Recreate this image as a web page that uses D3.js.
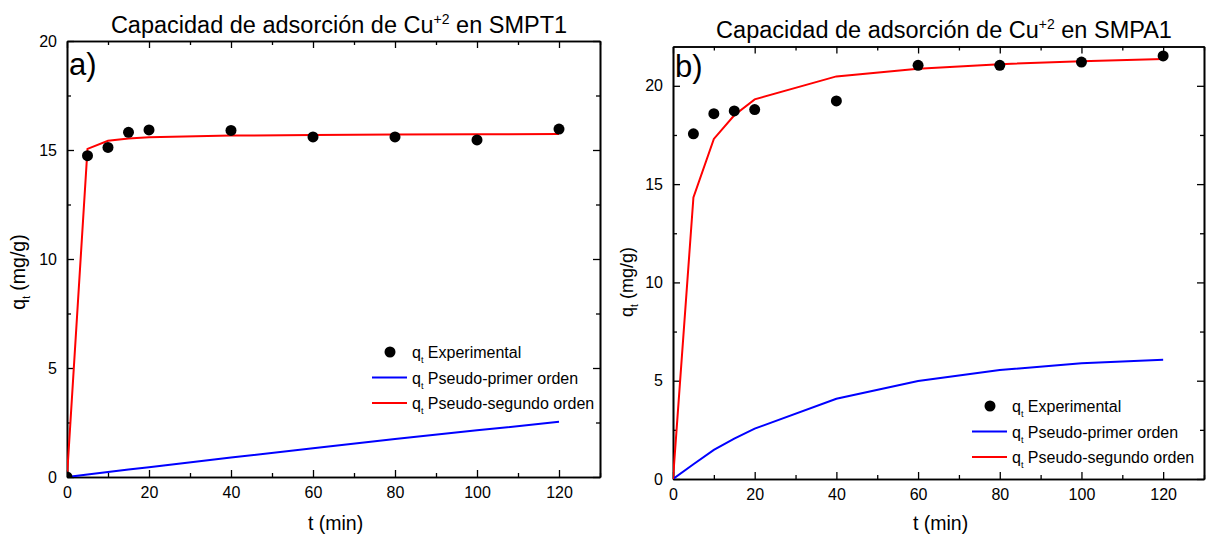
<!DOCTYPE html>
<html>
<head>
<meta charset="utf-8">
<script src="https://cdn.jsdelivr.net/npm/d3@7"></script>
<style>
  body { margin: 0; background: #fff; }
  svg { display: block; }
  text { font-family: "Liberation Sans", Arial, sans-serif; fill: #000; }
</style>
</head>
<body>
<svg id="chart" width="1206" height="536"></svg>
<script>
// Contact time (min)
const timeExpA = [0, 5, 10, 15, 20, 40, 60, 80, 100, 120];
const timeExpB = [5, 10, 15, 20, 40, 60, 80, 100, 120];
const timeModel = [0, 5, 10, 15, 20, 40, 60, 80, 100, 120];

// SMPT1: experimental uptake and kinetic model curves (mg/g)
const expA = [0, 14.74, 15.12, 15.81, 15.92, 15.9, 15.6, 15.6, 15.46, 15.96];
const pfoA = [0, 0.11, 0.23, 0.34, 0.45, 0.89, 1.32, 1.74, 2.14, 2.53];
const psoA = [0, 15.05, 15.42, 15.53, 15.58, 15.66, 15.69, 15.71, 15.72, 15.73];

// SMPA1
const expB = [17.56, 18.58, 18.72, 18.79, 19.23, 21.04, 21.04, 21.21, 21.52];
const pfoB = [0, 0.75, 1.48, 2.05, 2.56, 4.08, 4.99, 5.54, 5.89, 6.06];
const psoB = [0, 14.32, 17.3, 18.5, 19.31, 20.48, 20.87, 21.1, 21.25, 21.37];

const xTicks = [0, 20, 40, 60, 80, 100, 120];
const xMinor = [10, 30, 50, 70, 90, 110, 130];
const yTicksA = [0, 5, 10, 15, 20];
const yMinorA = [2.5, 7.5, 12.5, 17.5];
const yTicksB = [0, 5, 10, 15, 20];
const yMinorB = [2.5, 7.5, 12.5, 17.5];

const legendLabels = ["Experimental", "Pseudo-primer orden", "Pseudo-segundo orden"];

const svg = d3.select("#chart");

function panel(opt) {
  const x = d3.scaleLinear().domain([0, 130]).range([opt.left, opt.right]);
  const y = d3.scaleLinear().domain([0, opt.yMax]).range([opt.bottom, opt.top]);
  const g = svg.append("g");

  const clipId = "clip-" + opt.id;
  svg.append("clipPath").attr("id", clipId)
    .append("rect")
    .attr("x", opt.left).attr("y", opt.top)
    .attr("width", opt.right - opt.left).attr("height", opt.bottom - opt.top);

  const axisStyle = sel => {
    sel.attr("font-size", 16).attr("font-family", "Liberation Sans, Arial, sans-serif");
    sel.select(".domain").attr("stroke", "#000").attr("stroke-width", 1.6);
    sel.selectAll(".tick line").attr("stroke", "#000").attr("stroke-width", 1.3);
    sel.selectAll(".tick text").attr("font-size", 16);
  };

  // bottom axis with labels, ticks pointing inward
  g.append("g").attr("transform", `translate(0,${opt.bottom})`)
    .call(d3.axisBottom(x).tickValues(xTicks).tickSize(-7).tickSizeOuter(0).tickPadding(10))
    .call(axisStyle);
  g.append("g").attr("transform", `translate(0,${opt.bottom})`)
    .call(d3.axisBottom(x).tickValues(xMinor).tickSize(-4).tickSizeOuter(0).tickFormat(""))
    .call(axisStyle);
  // top axis
  g.append("g").attr("transform", `translate(0,${opt.top})`)
    .call(d3.axisTop(x).tickValues(xTicks).tickSize(-7).tickSizeOuter(0).tickFormat(""))
    .call(axisStyle);
  g.append("g").attr("transform", `translate(0,${opt.top})`)
    .call(d3.axisTop(x).tickValues(xMinor).tickSize(-4).tickSizeOuter(0).tickFormat(""))
    .call(axisStyle);
  // left axis with labels
  g.append("g").attr("transform", `translate(${opt.left},0)`)
    .call(d3.axisLeft(y).tickValues(opt.yTicks).tickSize(-7).tickSizeOuter(0).tickPadding(10))
    .call(axisStyle);
  g.append("g").attr("transform", `translate(${opt.left},0)`)
    .call(d3.axisLeft(y).tickValues(opt.yMinor).tickSize(-4).tickSizeOuter(0).tickFormat(""))
    .call(axisStyle);
  // right axis
  g.append("g").attr("transform", `translate(${opt.right},0)`)
    .call(d3.axisRight(y).tickValues(opt.yTicks).tickSize(-7).tickSizeOuter(0).tickFormat(""))
    .call(axisStyle);
  g.append("g").attr("transform", `translate(${opt.right},0)`)
    .call(d3.axisRight(y).tickValues(opt.yMinor).tickSize(-4).tickSizeOuter(0).tickFormat(""))
    .call(axisStyle);

  const marks = g.append("g").attr("clip-path", `url(#${clipId})`);
  const line = d3.line().x(d => x(d[0])).y(d => y(d[1]));

  marks.append("path")
    .datum(timeModel.map((t, i) => [t, opt.pfo[i]]))
    .attr("d", line).attr("fill", "none").attr("stroke", "#0000ff").attr("stroke-width", 2);
  marks.append("path")
    .datum(timeModel.map((t, i) => [t, opt.pso[i]]))
    .attr("d", line).attr("fill", "none").attr("stroke", "#ff0000").attr("stroke-width", 2);
  marks.selectAll("circle.exp")
    .data(opt.timeExp.map((t, i) => [t, opt.exp[i]]))
    .join("circle").attr("class", "exp")
    .attr("cx", d => x(d[0])).attr("cy", d => y(d[1])).attr("r", 5.5).attr("fill", "#000");

  // title with superscript charge
  const title = g.append("text").attr("x", opt.titleX).attr("y", opt.titleY)
    .attr("text-anchor", "middle").attr("font-size", 23.5);
  title.append("tspan").text("Capacidad de adsorción de Cu");
  title.append("tspan").attr("dy", -9).attr("font-size", 14).text("+2");
  title.append("tspan").attr("dy", 9).text(" en " + opt.sample);

  // panel letter
  g.append("text").attr("x", opt.left + 2).attr("y", opt.letterY)
    .attr("font-size", 31).text(opt.letter);

  // axis titles
  const yl = g.append("text")
    .attr("transform", `translate(${opt.yLabelX},${opt.yLabelY}) rotate(-90)`)
    .attr("text-anchor", "middle").attr("font-size", opt.yLabelSize);
  yl.append("tspan").text("q");
  yl.append("tspan").attr("dy", 5).attr("font-size", 10).text("t");
  yl.append("tspan").attr("dy", -5).text(" (mg/g)");

  g.append("text").attr("x", (opt.left + opt.right) / 2 + 2).attr("y", 530)
    .attr("text-anchor", "middle").attr("font-size", 19.5).text("t (min)");

  // legend
  const lg = g.append("g");
  legendLabels.forEach((lab, i) => {
    const ly = opt.legendY + i * opt.legendStep;
    if (i === 0) {
      lg.append("circle").attr("cx", opt.legendX + 18).attr("cy", ly).attr("r", 5.5).attr("fill", "#000");
    } else {
      lg.append("line").attr("x1", opt.legendX).attr("x2", opt.legendX + 35)
        .attr("y1", ly).attr("y2", ly)
        .attr("stroke", i === 1 ? "#0000ff" : "#ff0000").attr("stroke-width", 2);
    }
    const t = lg.append("text").attr("x", opt.legendX + 40).attr("y", ly + 6).attr("font-size", 16);
    t.append("tspan").text("q");
    t.append("tspan").attr("dy", 5).attr("font-size", 9).text("t");
    t.append("tspan").attr("dy", -5).text(" " + lab);
  });
}

panel({
  id: "a", left: 67, right: 600, top: 41, bottom: 477, yMax: 20,
  yTicks: yTicksA, yMinor: yMinorA,
  timeExp: timeExpA, exp: expA, pfo: pfoA, pso: psoA,
  sample: "SMPT1", titleX: 339, titleY: 33, letter: "a)", letterY: 75,
  yLabelX: 25, yLabelY: 272, yLabelSize: 19.5,
  legendX: 372, legendY: 352, legendStep: 25.5
});

panel({
  id: "b", left: 673, right: 1204, top: 46.5, bottom: 479, yMax: 22,
  yTicks: yTicksB, yMinor: yMinorB,
  timeExp: timeExpB, exp: expB, pfo: pfoB, pso: psoB,
  sample: "SMPA1", titleX: 944, titleY: 38, letter: "b)", letterY: 77,
  yLabelX: 633, yLabelY: 282, yLabelSize: 18,
  legendX: 972, legendY: 406, legendStep: 25.5
});
</script>
</body>
</html>
